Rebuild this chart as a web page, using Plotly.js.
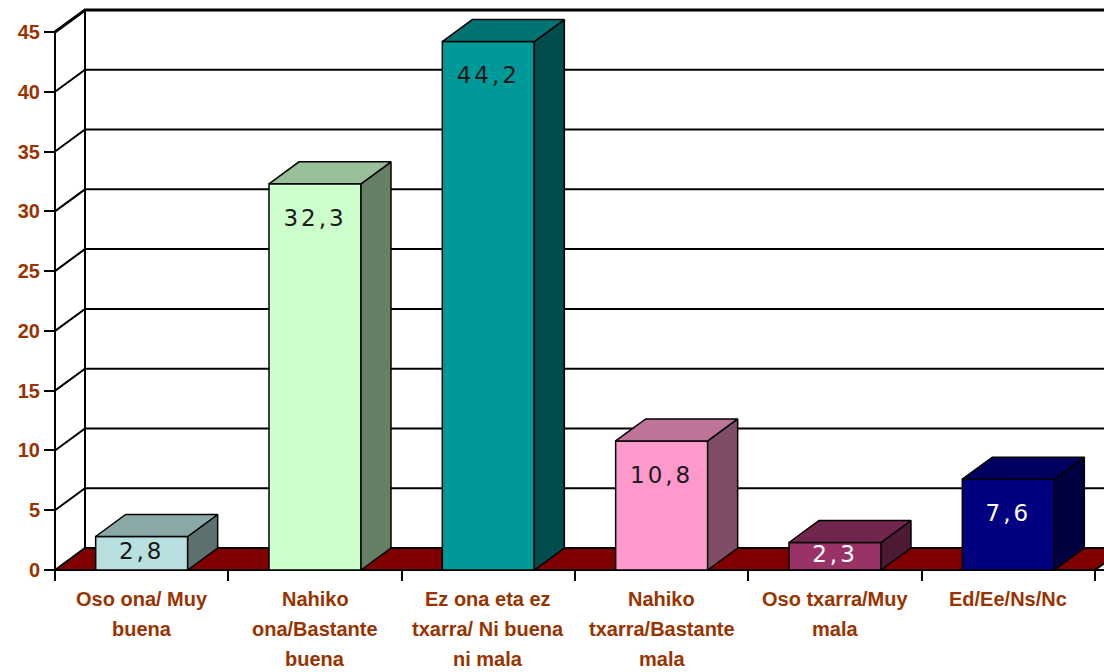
<!DOCTYPE html>
<html>
<head>
<meta charset="utf-8">
<script src="https://cdn.plot.ly/plotly-3.0.1.min.js"></script>
<style>
  html, body { margin: 0; padding: 0; background: #fff; }
  #chart { width: 1104px; height: 672px; }
  .textpoint text { letter-spacing: 3px; }
</style>
</head>
<body>
<div id="chart"></div>
<script>
// 3D-look column chart (Excel style) built from plain bars plus face polygons

const categories = [
  'Oso ona/ Muy<br>buena',
  'Nahiko<br>ona/Bastante<br>buena',
  'Ez ona eta ez<br>txarra/ Ni buena<br>ni mala',
  'Nahiko<br>txarra/Bastante<br>mala',
  'Oso txarra/Muy<br>mala',
  'Ed/Ee/Ns/Nc'
];
const values = [2.8, 32.3, 44.2, 10.8, 2.3, 7.6];
const yTicks = [0, 5, 10, 15, 20, 25, 30, 35, 40, 45];

const frontColors = ['#B9E0E0', '#CCFFCC', '#009999', '#FF99CC', '#993366', '#000080'];
const topColors   = ['#8BA8A8', '#99BF99', '#007373', '#BF7399', '#73264D', '#000060'];
const sideColors  = ['#5D7070', '#668066', '#004D4D', '#804D66', '#4D1A33', '#000040'];
const labelColors = ['#1a1a1a', '#1a1a1a', '#1a1a1a', '#1a1a1a', '#ffffff', '#ffffff'];

// pixel geometry
const W = 1104, H = 672;
const ML = 45, MB = 92;
const XU = 173.33;          // px per category
const YU = 11.956;          // px per value unit
const PAD = 10;             // px between plot edge and front axes
const DX = 30 / XU;         // depth offset in data units
const DY = 22 / YU;
const BAR_W = 92 / XU;
const X0 = -0.5, X1 = categories.length - 0.5;
const YMAX = yTicks[yTicks.length - 1];

const plotW = W - ML, plotH = H - MB;
const xRange = [X0 - PAD / XU, X0 - PAD / XU + plotW / XU];
const yRange = [-PAD / YU, -PAD / YU + plotH / YU];

const fmt = v => v.toFixed(1).replace('.', ',');

let traces = [];

// front faces
traces.push({
  type: 'bar',
  x: values.map((_, i) => i),
  y: values,
  width: BAR_W,
  marker: {color: frontColors, line: {color: '#000', width: 1.5}},
  hoverinfo: 'skip',
  showlegend: false
});

// side and top faces
values.forEach((v, i) => {
  let l = i - BAR_W / 2, r = i + BAR_W / 2;
  traces.push({
    type: 'scatter', mode: 'lines', fill: 'toself',
    x: [r, r, r + DX, r + DX, r],
    y: [0, v, v + DY, DY, 0],
    fillcolor: sideColors[i],
    line: {color: '#000', width: 1.5},
    hoverinfo: 'skip', showlegend: false
  });
  traces.push({
    type: 'scatter', mode: 'lines', fill: 'toself',
    x: [l, r, r + DX, l + DX, l],
    y: [v, v, v + DY, v + DY, v],
    fillcolor: topColors[i],
    line: {color: '#000', width: 1.5},
    hoverinfo: 'skip', showlegend: false
  });
});

// value labels
traces.push({
  type: 'scatter', mode: 'text',
  x: values.map((_, i) => i),
  y: values.map(v => Math.max(v / 2, v - 36 / YU)),
  text: values.map(fmt),
  textposition: 'middle center',
  textfont: {family: 'DejaVu Sans, Verdana, sans-serif', size: 23, color: labelColors},
  hoverinfo: 'skip', showlegend: false
});

// floor, walls and gridlines
let shapes = [];
shapes.push({
  type: 'path', layer: 'below', xref: 'x', yref: 'y',
  path: `M ${X0},0 L ${X0 + DX},${DY} L ${X1 + DX},${DY} L ${X1},0 Z`,
  fillcolor: '#800000', line: {width: 0}
});
yTicks.forEach(t => {
  shapes.push({
    type: 'path', layer: 'below', xref: 'x', yref: 'y',
    path: `M ${X0},${t} L ${X0 + DX},${t + DY} L ${X1 + DX + 1},${t + DY}`,
    line: {color: '#000', width: t === YMAX ? 3 : 2}
  });
});
shapes.push({
  type: 'path', layer: 'below', xref: 'x', yref: 'y',
  path: `M ${X0 + DX},${DY} L ${X0 + DX},${YMAX + DY}`,
  line: {color: '#000', width: 2}
});
shapes.push({
  type: 'path', layer: 'below', xref: 'x', yref: 'y',
  path: `M ${X1},0 L ${X1 + DX},${DY}`,
  line: {color: '#000', width: 2}
});
shapes.push({
  type: 'path', layer: 'below', xref: 'x', yref: 'y',
  path: `M ${X0},0 L ${X0},${YMAX}`,
  line: {color: '#000', width: 2}
});
shapes.push({
  type: 'path', layer: 'below', xref: 'x', yref: 'y',
  path: `M ${X0},0 L ${X1 + 1},0`,
  line: {color: '#000', width: 2}
});

// category labels, one annotation per line
const labelFont = {family: 'Liberation Sans, Arial, sans-serif', size: 20, color: '#993300', weight: 'bold'};
let annotations = [];
categories.forEach((c, i) => {
  c.split('<br>').forEach((line, k) => {
    annotations.push({
      x: i, xref: 'x', y: PAD / plotH, yref: 'paper',
      yanchor: 'middle', xanchor: 'center',
      yshift: -29 - 30 * k,
      text: line, showarrow: false,
      font: labelFont
    });
  });
});

Plotly.newPlot('chart', traces, {
  width: W, height: H,
  margin: {l: ML, r: 0, t: 0, b: MB},
  paper_bgcolor: '#fff',
  plot_bgcolor: 'rgba(0,0,0,0)',
  showlegend: false,
  xaxis: {
    range: xRange, anchor: 'free', position: PAD / plotH,
    tickvals: categories.map((_, i) => i - 0.5).concat([X1]),
    ticks: 'outside', ticklen: 10, tickwidth: 2, tickcolor: '#000',
    showticklabels: false, showgrid: false, zeroline: false, showline: false,
    fixedrange: true
  },
  yaxis: {
    range: yRange, anchor: 'free', position: PAD / plotW,
    tickvals: yTicks, ticktext: yTicks.map(String),
    ticks: 'outside', ticklen: 11, tickwidth: 2, tickcolor: '#000',
    tickfont: labelFont,
    showgrid: false, zeroline: false, showline: false,
    fixedrange: true
  },
  shapes: shapes,
  annotations: annotations
}, {displayModeBar: false, staticPlot: true});
</script>
</body>
</html>
